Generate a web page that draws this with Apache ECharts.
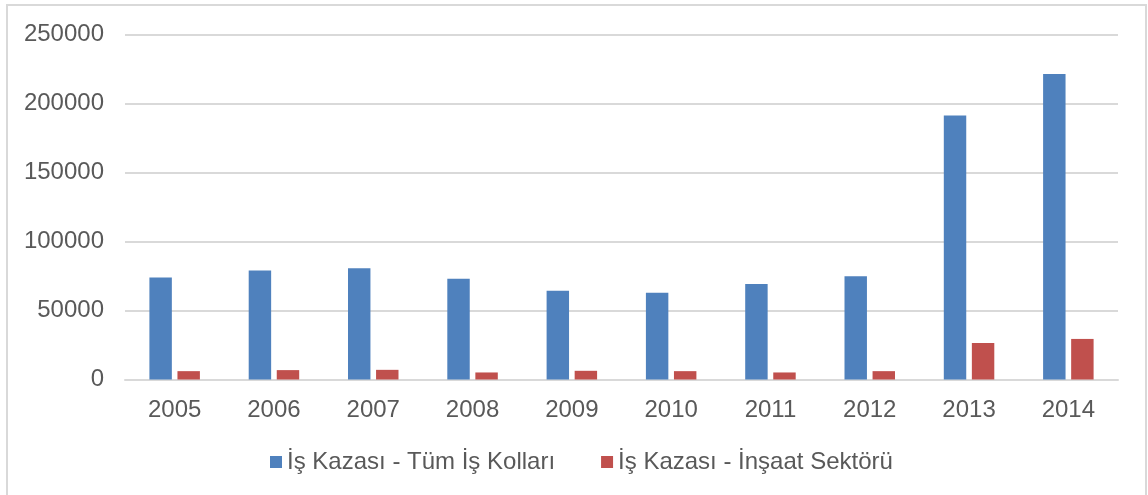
<!DOCTYPE html>
<html>
<head>
  <meta charset="utf-8">
  <title>İş Kazası</title>
  <script src="https://cdn.jsdelivr.net/npm/echarts@6/dist/echarts.min.js"></script>
  <style>
    html, body { margin: 0; padding: 0; background: #fff; }
    #chart { width: 1148px; height: 495px; }
  </style>
</head>
<body>
  <div id="chart"></div>
  <script>
    // yıllar ve seriler
    var years = ['2005', '2006', '2007', '2008', '2009', '2010', '2011', '2012', '2013', '2014'];
    var tumIsKollari = [73923, 79027, 80602, 72963, 64316, 62903, 69227, 74871, 191389, 221366];
    var insaatSektoru = [6050, 6800, 7000, 5100, 6300, 6050, 5100, 6050, 26450, 29400];
    var seriesNames = ['İş Kazası - Tüm İş Kolları', 'İş Kazası - İnşaat Sektörü'];

    var chart = echarts.init(document.getElementById('chart'));
    var textColor = '#595959';

    chart.setOption({
      animation: false,
      textStyle: { fontFamily: 'Liberation Sans, Arial, sans-serif' },
      graphic: [{
        type: 'rect',
        shape: { x: 7, y: 5, width: 1139, height: 500 },
        style: { fill: 'none', stroke: '#d9d9d9', lineWidth: 2 }
      }],
      grid: { left: 125, right: 30, top: 34.5, bottom: 115.5, containLabel: false },
      legend: {
        data: seriesNames,
        bottom: 16,
        left: 265,
        itemWidth: 12,
        itemHeight: 12,
        itemGap: 46,
        icon: 'rect',
        textStyle: { color: textColor, fontSize: 24 }
      },
      xAxis: {
        type: 'category',
        data: years,
        axisLine: { lineStyle: { color: '#d9d9d9', width: 2 } },
        axisTick: { show: false },
        axisLabel: { color: textColor, fontSize: 24, margin: 19 }
      },
      yAxis: {
        type: 'value',
        min: 0,
        max: 250000,
        interval: 50000,
        axisLine: { show: false },
        axisTick: { show: false },
        axisLabel: {
          color: textColor,
          fontSize: 24,
          margin: 21,
          formatter: function (v) { return String(v); }
        },
        splitLine: { lineStyle: { color: '#d9d9d9', width: 2 } }
      },
      series: [{
        name: seriesNames[0],
        type: 'bar',
        data: tumIsKollari,
        barWidth: '22.6%',
        barGap: '25%',
        itemStyle: { color: '#4F81BD' }
      }, {
        name: seriesNames[1],
        type: 'bar',
        data: insaatSektoru,
        barWidth: '22.6%',
        itemStyle: { color: '#C0504D' }
      }]
    });
  </script>
</body>
</html>
